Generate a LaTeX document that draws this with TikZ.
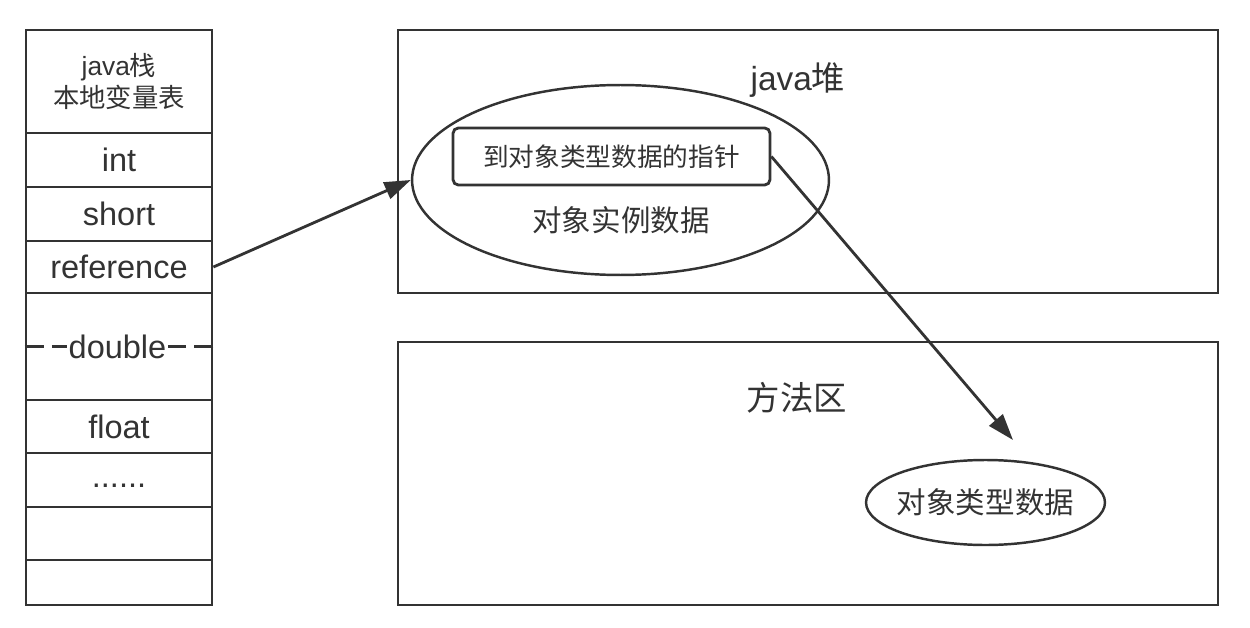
\documentclass[tikz,border=0pt]{standalone}
\usepackage{fontspec}
\setmainfont{Liberation Sans}
\newfontfamily\cjk{Noto Sans CJK SC}
\usetikzlibrary{arrows.meta, shapes.geometric}
\definecolor{linegray}{HTML}{333333}

\begin{document}
\begin{tikzpicture}[x=0.02cm, y=-0.02cm, linegray, line width=1.6pt,
  cell/.style={draw, rectangle, minimum width=3.72cm, inner sep=0pt, font=\fontsize{18.5}{22}\selectfont},
  region/.style={draw, rectangle, minimum width=16.4cm, minimum height=5.26cm},
  blob/.style={draw, ellipse, inner sep=0pt, line width=1.4pt},
  midtext/.style={font=\fontsize{16.8}{20}\cjk},
  bigtext/.style={font=\fontsize{19}{22}\selectfont},
  link/.style={-{Triangle[length=15pt, width=10pt]}}]
  \useasboundingbox (0,0) rectangle (1250,628);
  % java stack
  \node[cell, minimum height=2.06cm, align=center, font=\fontsize{15}{18}\selectfont] (head) at (119,81.5) {java{\cjk 栈}\\{\cjk 本地变量表}};
  \node[cell, minimum height=1.08cm] (int) at (119,160) {int};
  \node[cell, minimum height=1.08cm] (short) at (119,214) {short};
  \node[cell, minimum height=1.04cm] (ref) at (119,267) {reference};
  \node[cell, minimum height=2.14cm] (dbl) at (119,346.5) {};
  \node[inner sep=0pt, font=\fontsize{18.5}{22}\selectfont] (dbllabel) at (117.5,346.5) {double};
  \draw[dash pattern=on 11pt off 4.5pt] (dbl.west) -- (dbllabel.west);
  \draw[dash pattern=on 11pt off 4.5pt] (dbl.east) -- (dbllabel.east);
  \node[cell, minimum height=1.06cm] (float) at (119,426.5) {float};
  \node[cell, minimum height=1.08cm] (dots) at (119,480) {\strut......};
  \node[cell, minimum height=1.06cm] (blank1) at (119,533.5) {};
  \node[cell, minimum height=0.9cm] (blank2) at (119,582.5) {};
  % java heap
  \node[region] (heap) at (808,161.5) {};
  \node[bigtext] (heaplabel) at (798,80) {java{\cjk 堆}};
  \node[blob, minimum width=8.34cm, minimum height=3.8cm] (obj) at (620.5,180) {};
  \node[draw, rounded corners=3pt, minimum width=6.34cm, minimum height=1.14cm, font=\fontsize{14.6}{18}\cjk] (ptr) at (611.5,156.5) {到对象类型数据的指针};
  \node[midtext] (objlabel) at (621,220) {对象实例数据};
  % method area
  \node[region] (method) at (808,473.5) {};
  \node[bigtext] (methodlabel) at (797,398) {\cjk 方法区};
  \node[blob, minimum width=4.78cm, minimum height=1.7cm] (type) at (985.5,502.5) {};
  \node[midtext] (typelabel) at (type) {对象类型数据};
  % pointers
  \coordinate (tip) at (1013,440);
  \draw[link] (ref.east) -- (obj.west);
  \draw[link] (ptr.east) -- (tip);
\end{tikzpicture}
\end{document}
